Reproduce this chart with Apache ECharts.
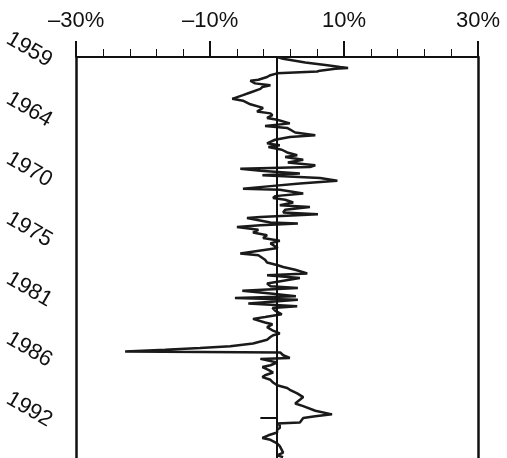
<!DOCTYPE html>
<html>
<head>
<meta charset="utf-8" />
<script src="https://cdn.jsdelivr.net/npm/echarts@6/dist/echarts.min.js"></script>
<style>
  html, body { margin: 0; padding: 0; background: #fff; }
  #main { width: 507px; height: 458px; }
</style>
</head>
<body>
<div id="main"></div>
<script type="text/javascript">
// months counted from Jan 1959, value in percent
var months = [0, 2, 6, 9, 11, 12, 13, 15, 16, 18, 20, 22, 25, 26, 29, 31, 33, 35, 39, 42,
  46, 48, 52, 56, 60, 62, 64, 66, 67, 69, 73, 76, 78, 83, 86, 88, 91, 95, 97, 99,
  102, 105, 108, 110, 113, 116, 119, 121, 123, 125, 128, 130, 133, 136, 139, 142, 145, 146, 150, 153,
  155, 157, 160, 163, 165, 168, 171, 173, 176, 177, 182, 183, 185, 187, 190, 193, 196, 199, 202, 205,
  207, 210, 216, 218, 220, 223, 226, 229, 231, 234, 238, 240, 243, 245, 249, 252, 254, 257, 260, 263,
  265, 267, 271, 274, 276, 279, 283, 286, 288, 292, 294, 297, 299, 301, 304, 306, 308, 311, 315, 318,
  320, 322, 324, 325, 328, 331, 332, 336, 339, 341, 344, 347, 350, 352, 355, 358, 361, 364, 366, 370,
  374, 377, 381, 384, 386, 389, 393, 395, 397, 399, 402, 403, 405, 408, 410, 413, 416, 419, 421, 425,
  428, 430, 435, 438, 440];
var values = [0, 0.9, 4.2, 7.5, 9.4, 10.6, 8.7, 6.4, 6.0, 0, -1.0, -1.5, -2.8, -4.0, -3.3, -1.0, -2.2, -2.5, -4.0, -5.1,
  -6.7, -5.1, -4.0, -2.1, -3.0, -1.0, -0.7, -0.6, -1.5, 0, 1.9, -1.8, 1.5, 2.7, 5.7, 1.9, -0.3, -1.5, 0.4, -1.3,
  0.7, 1.5, 3.0, 1.2, 3.9, 1.6, 5.7, 4.9, -5.5, -2.5, 3.4, -2.2, 6.4, 9.0, 3.4, -1.0, -5.1, 0.4, 3.9, -0.3,
  -0.6, 1.2, 2.4, 0.4, 4.9, 1.2, 0.9, 6.1, -2.5, -4.5, -1.0, 3.1, -2.5, -6.0, -2.8, -3.6, -1.5, -2.1, 0.4, -1.0,
  -1.0, 0.1, -5.5, -2.8, -3.0, -1.8, -1.5, 0.1, 0.9, 2.7, 4.5, -1.5, 3.4, 3.4, -1.5, -1.0, 3.1, -5.2, -1.0, 2.8,
  -6.3, 3.1, -4.3, 3.0, -0.7, -0.3, 0.7, -1.8, -3.6, -1.8, -0.7, -1.5, -1.5, -0.6, 0.4, -0.6, -1.0, -1.5, -3.6, -7.0,
  -11.5, -16.7, -22.7, 0.5, 0.9, 1.9, -2.5, 0, -1.0, -2.2, -1.3, -0.6, -1.8, -2.2, -1.0, -0.6, 0, 1.5, 1.9, 3.0,
  3.9, 3.4, 2.7, 3.9, 3.9, 5.7, 8.2, 5.7, 3.9, 3.9, 3.4, 0, 0.4, 0.4, 0, 0, -1.3, -2.2, -1.0, 0,
  0.4, 0.4, 0.9, 0, 0.9];

var xTickLabels = ['–30%', '–10%', '10%', '30%'];
var xMajorTicks = [-30, -10, 10, 30];
var xMinorTicks = [-26, -22, -18, -14, -6, -2, 2, 6, 14, 18, 22, 26];
var yearLabels = ['1959', '1964', '1970', '1975', '1981', '1986', '1992'];
var yearStep = 66; // months between year labels
var mark1992 = { month: 397, from: -2.5, to: 0 };

var lineData = months.map(function (m, i) { return [values[i], m]; });

var myChart = echarts.init(document.getElementById('main'));

var option = {
  animation: false,
  grid: { left: 76, right: 29, top: 57, bottom: 0, containLabel: false },
  xAxis: [{
    type: 'value', position: 'top', min: -30, max: 30,
    splitLine: { show: false },
    axisLine: { show: true, onZero: false, lineStyle: { color: '#111', width: 2 } },
    axisTick: { show: true, length: 16, customValues: xMajorTicks, lineStyle: { color: '#111', width: 2 } },
    axisLabel: {
      customValues: xMajorTicks, margin: 25,
      fontFamily: 'Liberation Sans', fontSize: 22, color: '#111',
      formatter: function (v) { return xTickLabels[xMajorTicks.indexOf(v)]; }
    }
  }, {
    type: 'value', position: 'top', min: -30, max: 30,
    splitLine: { show: false },
    axisLine: { show: false, onZero: false },
    axisTick: { show: true, length: 8, customValues: xMinorTicks, lineStyle: { color: '#111', width: 1 } },
    axisLabel: { show: false }
  }],
  yAxis: [{
    type: 'value', inverse: true, min: 0, max: 441, interval: yearStep,
    position: 'left',
    splitLine: { show: false },
    axisLine: { show: true, onZero: false, lineStyle: { color: '#111', width: 2.5 } },
    axisTick: { show: false },
    axisLabel: {
      rotate: -30, margin: 23, showMaxLabel: false,
      formatter: function (v) {
        var t = yearLabels[Math.round(v / yearStep)];
        return t ? '{y|' + t + '}' : '';
      },
      rich: {
        y: { fontFamily: 'Liberation Sans', fontSize: 22, color: '#111', padding: [11, 0, 0, 0] }
      }
    }
  }, {
    type: 'value', inverse: true, min: 0, max: 441,
    position: 'right',
    splitLine: { show: false },
    axisLine: { show: true, onZero: false, lineStyle: { color: '#111', width: 2.5 } },
    axisTick: { show: false },
    axisLabel: { show: false }
  }],
  series: [{
    type: 'line',
    xAxisIndex: 0, yAxisIndex: 0,
    data: lineData,
    showSymbol: false,
    lineStyle: { color: '#1a1a1a', width: 2.5 },
    markLine: {
      silent: true, symbol: 'none', label: { show: false },
      lineStyle: { color: '#111', width: 2, type: 'solid' },
      data: [
        { xAxis: 0 },
        [{ coord: [mark1992.from, mark1992.month] }, { coord: [mark1992.to, mark1992.month] }]
      ]
    }
  }]
};

myChart.setOption(option);
</script>
</body>
</html>
